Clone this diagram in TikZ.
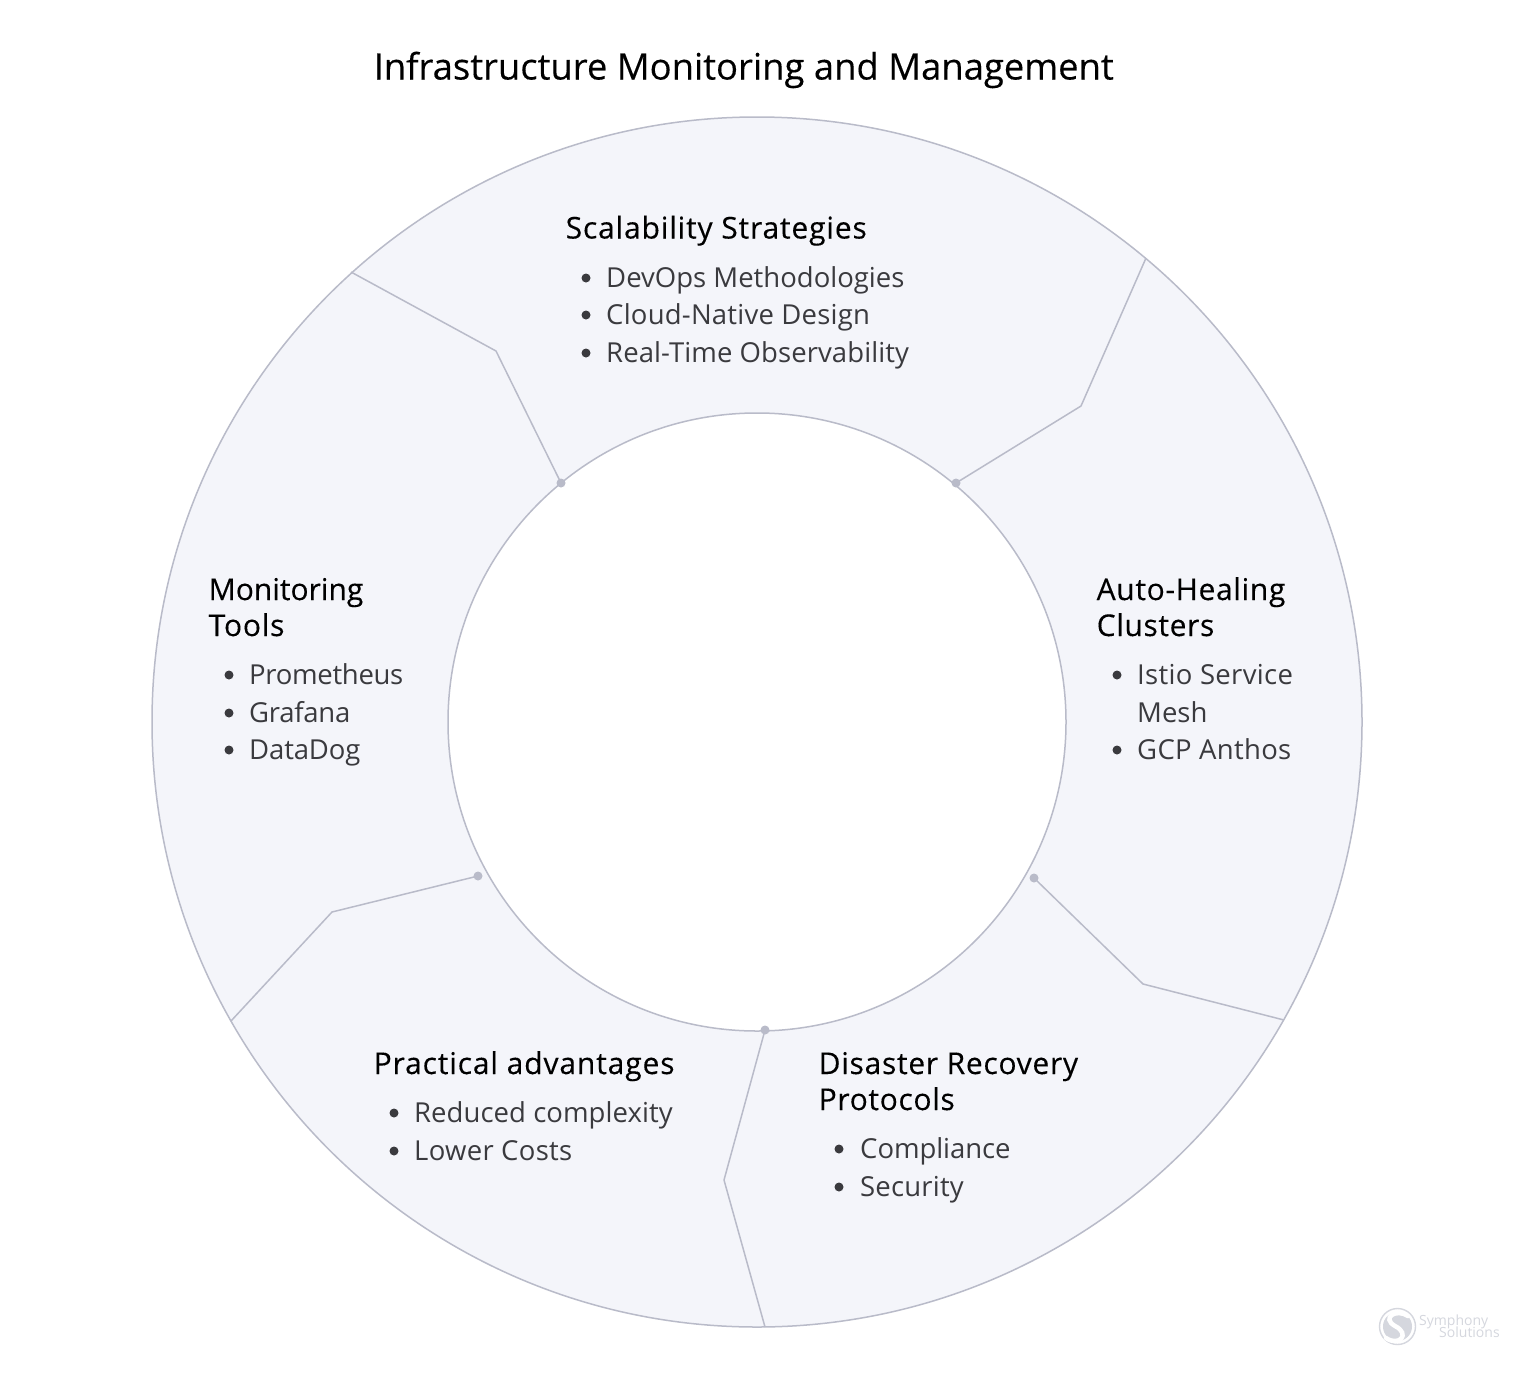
\documentclass[tikz,border=0pt]{standalone}
\usepackage{fontspec}
\setmainfont{Open Sans}
\newfontfamily\medfont[FakeBold=0.25]{Open Sans}
\newcommand{\ls}[1]{\addfontfeature{LetterSpace=#1}}
\definecolor{ringfill}{HTML}{F4F5FA}
\definecolor{ringline}{HTML}{B9BBC9}
\definecolor{itemtext}{HTML}{3A3A3E}
\definecolor{logogray}{HTML}{D5D7DE}
\tikzset{
  ttl/.style={anchor=base west,inner sep=0pt,font=\medfont\fontsize{36.4}{40}\selectfont,text=black},
  head/.style={anchor=base west,inner sep=0pt,font=\medfont\fontsize{30}{36}\selectfont,text=black},
  item/.style={anchor=base west,inner sep=0pt,font=\fontsize{27.5}{36}\selectfont,text=itemtext},
  bul/.style={circle,fill=itemtext,inner sep=0pt,minimum size=9pt},
  sep/.style={draw=ringline,line width=1.5pt,line join=round},
  dot/.style={circle,fill=ringline,inner sep=0pt,minimum size=9pt},
  logo/.style={anchor=base west,inner sep=0pt,font=\fontsize{14}{15}\selectfont,text=logogray}
}
\begin{document}
\begin{tikzpicture}[x=1pt,y=-1pt]
\useasboundingbox (0,0) rectangle (1536,1373);
\fill[white] (0,0) rectangle (1536,1373);
\fill[ringfill,even odd rule] (757,722) circle[radius=605] (757,722) circle[radius=309];
\draw[ringline,line width=1.5pt] (757,722) circle[radius=605];
\draw[ringline,line width=1.5pt] (757,722) circle[radius=309];
% separators
\node[dot] (d1) at (956,483) {};
\coordinate (k1) at (1081,406); \coordinate (e1) at (1146,258);
\draw[sep] (d1.center) -- (k1) -- (e1);
\node[dot] (d2) at (1034,878) {};
\coordinate (k2) at (1143,984); \coordinate (e2) at (1284,1020);
\draw[sep] (d2.center) -- (k2) -- (e2);
\node[dot] (d3) at (765,1030) {};
\coordinate (k3) at (724,1180); \coordinate (e3) at (765,1327);
\draw[sep] (d3.center) -- (k3) -- (e3);
\node[dot] (d4) at (478,876) {};
\coordinate (k4) at (332,912); \coordinate (e4) at (231,1021);
\draw[sep] (d4.center) -- (k4) -- (e4);
\node[dot] (d5) at (561,483) {};
\coordinate (k5) at (496,351); \coordinate (e5) at (351,272);
\draw[sep] (d5.center) -- (k5) -- (e5);
% title
\node[ttl] (title) at (373.5,79.5) {Infrastructure Monitoring and Management};
% top
\node[head] (h1) at (565.5,238.5) {\ls{2.8}Scalability Strategies};
\node[bul] (b11) at (586,278) {}; \node[item] (t11) at (606,287) {DevOps Methodologies};
\node[bul] (b12) at (586,315) {}; \node[item] (t12) at (606,324.5) {\ls{0.8}Cloud-Native Design};
\node[bul] (b13) at (586,353) {}; \node[item] (t13) at (606,362) {\ls{0.3}Real-Time Observability};
% right
\node[head] (h2a) at (1096.5,600) {\ls{2.2}Auto-Healing};
\node[head] (h2b) at (1096.5,636) {\ls{2.1}Clusters};
\node[bul] (b21) at (1117,675) {}; \node[item] (t21) at (1137,684.5) {\ls{1.2}Istio Service};
\node[item] (t21b) at (1137,722) {Mesh};
\node[bul] (b22) at (1117,750) {}; \node[item] (t22) at (1137,759.5) {\ls{1.1}GCP Anthos};
% bottom right
\node[head] (h3a) at (818.5,1074) {\ls{2.4}Disaster Recovery};
\node[head] (h3b) at (818.5,1110) {\ls{2.2}Protocols};
\node[bul] (b31) at (839,1149) {}; \node[item] (t31) at (860,1158.5) {\ls{-0.3}Compliance};
\node[bul] (b32) at (839,1187) {}; \node[item] (t32) at (860,1196) {\ls{0.7}Security};
% bottom left
\node[head] (h4) at (373.5,1074) {\ls{2.9}Practical advantages};
\node[bul] (b41) at (394,1113) {}; \node[item] (t41) at (414,1122.5) {\ls{0.2}Reduced complexity};
\node[bul] (b42) at (394,1151) {}; \node[item] (t42) at (414,1160) {\ls{1.1}Lower Costs};
% left
\node[head] (h5a) at (208.5,600) {Monitoring};
\node[head] (h5b) at (208.5,636) {\ls{2.6}Tools};
\node[bul] (b51) at (229,675) {}; \node[item] (t51) at (249,684.5) {\ls{-1.1}Prometheus};
\node[bul] (b52) at (229,713) {}; \node[item] (t52) at (249,722) {\ls{-1}Grafana};
\node[bul] (b53) at (229,750) {}; \node[item] (t53) at (249,759.5) {\ls{-0.5}DataDog};
% logo
\draw[logogray,line width=1.4pt] (1397.5,1326.5) circle[radius=18];
\fill[logogray] (1397.5,1326.5) circle[radius=14.5];
\draw[white,line width=4.5pt,line cap=round] (1408,1316) .. controls (1396,1308) and (1381,1318) .. (1395,1326) .. controls (1411,1334) and (1399,1347) .. (1386,1338);
\node[logo] (l1) at (1419,1325) {Symphony};
\node[logo] (l2) at (1439,1337) {Solutions};
\end{tikzpicture}
\end{document}
